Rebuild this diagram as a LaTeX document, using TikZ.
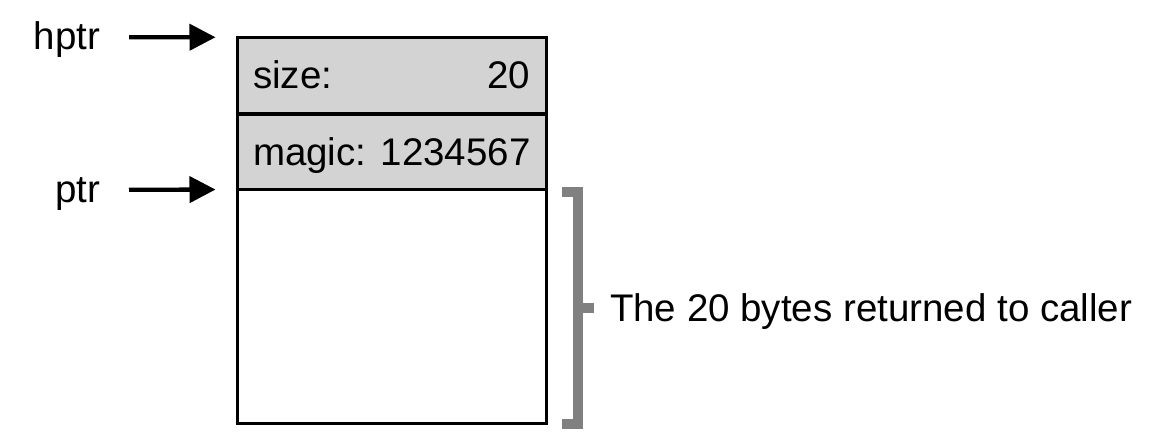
\documentclass[tikz,border=0pt]{standalone}
\usepackage{fontspec}
\setmainfont{Liberation Sans}
\usetikzlibrary{arrows.meta}
\definecolor{rowgray}{RGB}{211,211,211}
\definecolor{brgray}{RGB}{128,128,128}
\tikzset{
  rowbox/.style={draw=black, line width=3bp, minimum width=309bp, inner sep=0pt, outer sep=0pt},
  lbl/.style={inner sep=0pt, outer sep=0pt, font=\fontsize{38.5bp}{46bp}\selectfont},
  ptrarrow/.style={line width=4.3bp, -{Triangle[length=26bp 0 0, width=26bp 0 0]}},
  bracketline/.style={draw=brgray, line width=10bp, line join=miter, line cap=butt}
}
\begin{document}
\begin{tikzpicture}[x=1bp, y=-1bp]
  \useasboundingbox (0,0) rectangle (1155,447);
  % memory rows
  \node[rowbox, fill=rowgray, minimum height=76.7bp] (sizerow) at (392,75.6) {};
  \node[rowbox, fill=rowgray, minimum height=75.5bp] (magicrow) at (392,151.8) {};
  \node[rowbox, fill=white, minimum height=233.5bp] (datarow) at (392,306.3) {};
  % row texts
  \node[lbl, anchor=base west] (sizelbl) at (253,89) {size:};
  \node[lbl, anchor=base east] (sizeval) at (530,89) {20};
  \node[lbl, anchor=base west] (magiclbl) at (253,165.5) {magic: 1234567};
  % pointer labels and arrows
  \node[lbl, anchor=base east] (hptr) at (100,50) {hptr};
  \node[lbl, anchor=base east] (ptr) at (100,203) {ptr};
  \coordinate (hptrfrom) at (129,37.3);
  \coordinate (ptrfrom) at (129,189.8);
  \draw[ptrarrow] (hptrfrom) -- ([xshift=-22bp]sizerow.north west);
  \draw[ptrarrow] (ptrfrom) -- ([xshift=-22bp]datarow.north west);
  % bracket
  \coordinate (brtop) at (562,191.7);
  \coordinate (brbot) at (562,424);
  \coordinate (brmid) at (577.7,308);
  \draw[bracketline] (brtop) -- (577.7,191.7) -- (577.7,424) -- (brbot);
  \draw[bracketline] (brmid) -- (594,308);
  \node[lbl, anchor=base west] (caller) at (610,322) {The 20 bytes returned to caller};
\end{tikzpicture}
\end{document}
